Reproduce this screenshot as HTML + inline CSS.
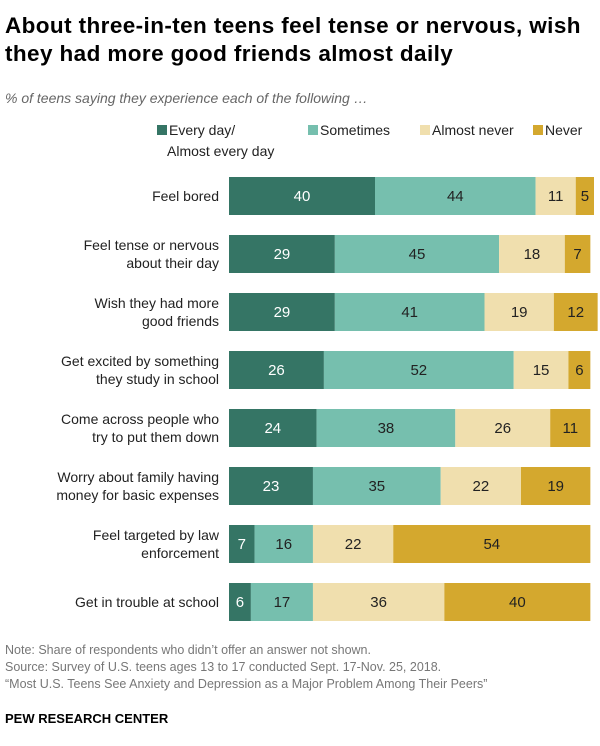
<!DOCTYPE html>
<html><head><meta charset="utf-8"><style>
body{margin:0;width:600px;height:746px;background:#fff;font-family:"Liberation Sans",sans-serif;position:relative;overflow:hidden}
.t{position:absolute;margin:0}
</style></head><body>
<div class="t" style="left:5px;top:12px;width:600px;font-size:22.5px;letter-spacing:0.4px;font-weight:bold;line-height:28px;color:#000;white-space:nowrap">About three-in-ten teens feel tense or nervous, wish<br>they had more good friends almost daily</div>
<div class="t" style="left:5px;top:90px;font-size:14px;font-style:italic;color:#666">% of teens saying they experience each of the following …</div>
<svg id="chart" width="600" height="746" style="position:absolute;left:0;top:0" font-family="Liberation Sans, sans-serif"></svg>
<div class="t" style="left:5px;top:642px;font-size:12.5px;line-height:17px;color:#777">Note: Share of respondents who didn’t offer an answer not shown.<br>Source: Survey of U.S. teens ages 13 to 17 conducted Sept. 17-Nov. 25, 2018.<br>“Most U.S. Teens See Anxiety and Depression as a Major Problem Among Their Peers”</div>
<div class="t" style="left:5px;top:711px;font-size:13px;font-weight:bold;color:#000">PEW RESEARCH CENTER</div>
<script>
const categories=[["Feel bored"],["Feel tense or nervous","about their day"],["Wish they had more","good friends"],["Get excited by something","they study in school"],["Come across people who","try to put them down"],["Worry about family having","money for basic expenses"],["Feel targeted by law","enforcement"],["Get in trouble at school"]];
const everyDay=[40,29,29,26,24,23,7,6];
const sometimes=[44,45,41,52,38,35,16,17];
const almostNever=[11,18,19,15,26,22,22,36];
const never=[5,7,12,6,11,19,54,40];
const seriesNames=["Every day/ Almost every day","Sometimes","Almost never","Never"];
const NS="http://www.w3.org/2000/svg";
const svg=document.getElementById("chart");
const colors=["#357565","#76bfae","#f0dfae","#d4a82e"];
const textColors=["#fff","#222","#222","#222"];
const x0=229,scale=3.65;
const xPos=v=>x0+v*scale;
const yPos=i=>177+i*58;
const bh=38;
function mk(tag,attrs){const e=document.createElementNS(NS,tag);for(const k in attrs)e.setAttribute(k,attrs[k]);svg.appendChild(e);return e;}
const series=[everyDay,sometimes,almostNever,never];
categories.forEach((lab,i)=>{
  const y=yPos(i);
  const lt=mk("text",{x:219,"text-anchor":"end","font-size":14,fill:"#222"});
  
  
  const off=lab.length===1?5:-4;
  lab.forEach((l,j)=>{const ts=document.createElementNS(NS,"tspan");ts.setAttribute("x",219);ts.setAttribute("y",y+bh/2+off+j*18);ts.textContent=l;lt.appendChild(ts);});
  let cum=0;
  series.forEach((s,k)=>{
    const v=s[i];
    const r=mk("rect",{x:xPos(cum),y:y,width:v*scale,height:bh,fill:colors[k]});
    
    
    const t=mk("text",{x:xPos(cum+v/2),y:y+bh/2+5,"text-anchor":"middle","font-size":15,fill:textColors[k]});
    
    
    t.textContent=v;
    cum+=v;
  });
});
const legendX=[157,308,420,533];
seriesNames.forEach((n,k)=>{
  const r=mk("rect",{x:legendX[k],y:125,width:10,height:10,fill:colors[k]});
  
  
  const t=mk("text",{x:legendX[k]+12,y:135,"font-size":14,fill:"#222"});
  
  
  if(k===0){t.innerHTML='<tspan x="'+(legendX[k]+12)+'" y="135">Every day/</tspan><tspan x="'+(legendX[k]+10)+'" y="156">Almost every day</tspan>';}
  else t.textContent=n;
});
</script>
</body></html>
